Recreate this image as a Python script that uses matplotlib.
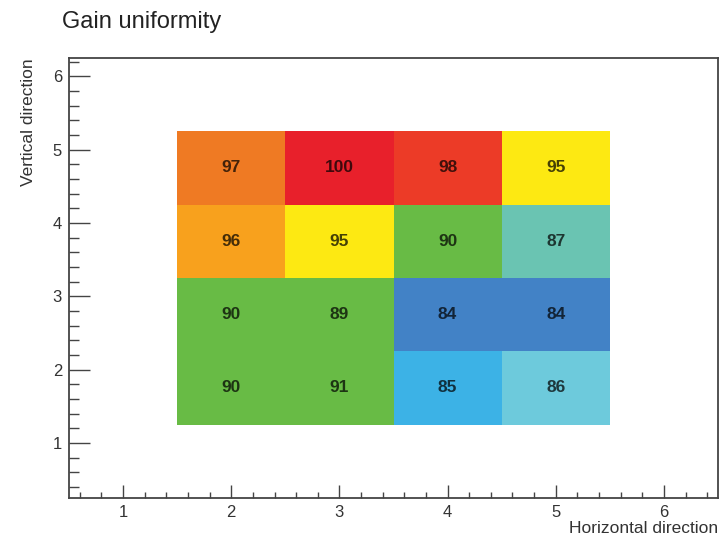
import matplotlib
matplotlib.use("Agg")
import matplotlib.pyplot as plt
import numpy as np
from matplotlib.colors import ListedColormap, BoundaryNorm

plt.rcParams['font.family'] = ['Liberation Sans', 'DejaVu Sans']

x_centers = [2, 3, 4, 5]
y_centers = [1.75, 2.75, 3.75, 4.75]
# rows from bottom to top
row_1 = [90, 91, 85, 86]
row_2 = [90, 89, 84, 84]
row_3 = [96, 95, 90, 87]
row_4 = [97, 100, 98, 95]
values = np.array([row_1, row_2, row_3, row_4])

bounds = [83.5, 84.5, 85.5, 86.5, 88, 92, 95.5, 96.5, 97.5, 99, 101]
colors = ['#4282c6', '#3cb2e6', '#6dcadc', '#6ac4b2', '#68bb45',
          '#fde912', '#f8a11d', '#ef7a23', '#ec3b27', '#e8202b']
cmap = ListedColormap(colors)
norm = BoundaryNorm(bounds, cmap.N)

fig = plt.figure(figsize=(7.21, 5.39), dpi=100)
ax = fig.add_axes([69/721, 1-498/539, (718-69)/721, (498-58)/539])

xe = np.array([1.5, 2.5, 3.5, 4.5, 5.5])
ye = np.array([1.25, 2.25, 3.25, 4.25, 5.25])
ax.pcolormesh(xe, ye, values, cmap=cmap, norm=norm)

for j, yc in enumerate(y_centers):
    for i, xc in enumerate(x_centers):
        ax.text(xc, yc, str(values[j, i]), ha='center', va='center',
                fontsize=12.5, fontweight='bold', color='black', alpha=0.72)

ax.set_xlim(0.5, 6.5)
ax.set_ylim(0.25, 6.25)
ax.set_xticks([1, 2, 3, 4, 5, 6])
ax.set_yticks([1, 2, 3, 4, 5, 6])
ax.set_xticks(np.arange(0.6, 6.5, 0.2), minor=True)
ax.set_yticks(np.arange(0.4, 6.3, 0.2), minor=True)

for s in ax.spines.values():
    s.set_linewidth(1.3)
    s.set_color('#444444')

ax.tick_params(axis='x', which='major', direction='in', length=9.5, width=1.0,
               color='#444444', labelsize=12, pad=5, top=False)
ax.tick_params(axis='x', which='minor', direction='in', length=4.5, width=1.0,
               color='#444444', top=False)
ax.tick_params(axis='y', which='major', direction='in', length=15, width=1.0,
               color='#444444', labelsize=12, pad=5, right=False)
ax.tick_params(axis='y', which='minor', direction='in', length=7, width=1.0,
               color='#444444', right=False)
for lab in ax.get_xticklabels() + ax.get_yticklabels():
    lab.set_color('#333333')

ax.set_xlabel('Horizontal direction', fontsize=12.5, color='#333333', loc='right', labelpad=1)
ax.set_ylabel('Vertical direction', fontsize=12.5, color='#333333', loc='top', labelpad=12)

fig.text(62/721, 1-22/539, 'Gain uniformity', fontsize=17, color='#222222',
         ha='left', va='center')

fig.savefig('out.png', dpi=100)
